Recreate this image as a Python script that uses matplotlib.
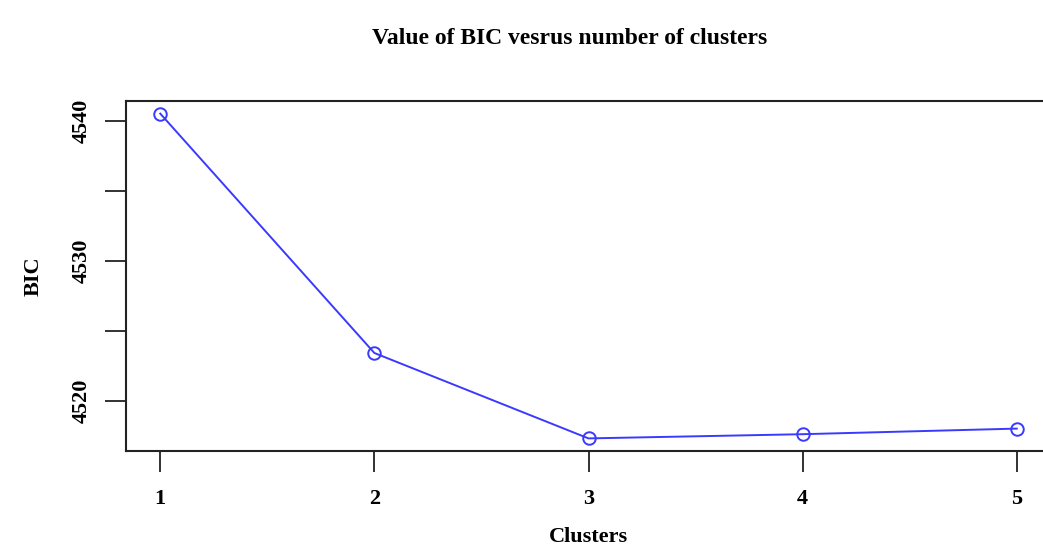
import matplotlib
matplotlib.use("Agg")
import matplotlib.pyplot as plt

clusters = [1, 2, 3, 4, 5]
bic = [4540.5, 4523.4, 4517.3, 4517.6, 4518.0]
x_ticks = [1, 2, 3, 4, 5]
y_ticks = [4520, 4525, 4530, 4535, 4540]
y_tick_labels = ["4520", "", "4530", "", "4540"]

plt.rcParams['font.family'] = ['Liberation Serif', 'DejaVu Serif']
plt.rcParams['font.weight'] = 'bold'

W, H = 1043, 546
fig = plt.figure(figsize=(W / 100, H / 100), dpi=100)
left, right, top, bottom = 126, 1051, 101, 451
ax = fig.add_axes([left / W, 1 - bottom / H, (right - left) / W, (bottom - top) / H])

ax.plot(clusters, bic, color='#3a3aff', linewidth=1.4, marker='o', markersize=9,
        markerfacecolor='none', markeredgecolor='#3a3aff', markeredgewidth=1.4)

ax.set_xlim(0.84, 5.16)
ax.set_ylim(4516.4, 4541.4)
ax.set_xticks(x_ticks)
ax.set_xticklabels([str(v) for v in x_ticks], fontsize=16, fontweight='bold')
ax.set_yticks(y_ticks)
ax.set_yticklabels(y_tick_labels, fontsize=16, fontweight='bold', rotation=90, va='center')
ax.tick_params(axis='both', direction='out', length=15, width=1.3, color='#222222')
ax.tick_params(axis='x', pad=12)
ax.tick_params(axis='y', pad=10)
for s in ax.spines.values():
    s.set_linewidth(1.5)
    s.set_color('#222222')

ax.set_xlabel("Clusters", fontsize=16, fontweight='bold', labelpad=13)
ax.set_ylabel("BIC", fontsize=16, fontweight='bold', labelpad=20)
fig.text(570 / W, 1 - 38 / H, "Value of BIC vesrus number of clusters", ha='center', va='center',
         fontsize=17, fontweight='bold')

fig.savefig("out.png", dpi=100)
